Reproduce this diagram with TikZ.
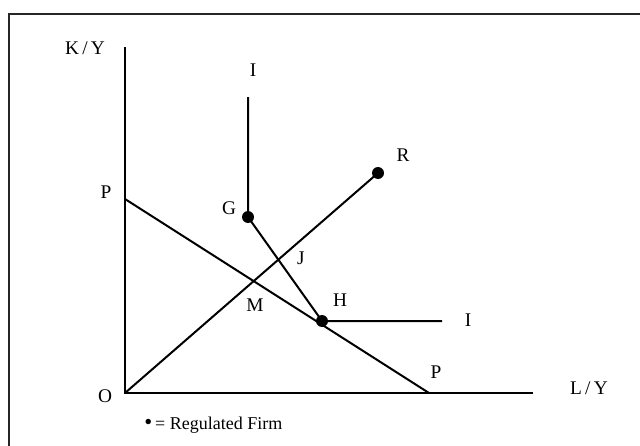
\documentclass[tikz,border=0pt]{standalone}
\usepackage{fontspec}
\setmainfont{Liberation Serif}
\begin{document}
\begin{tikzpicture}[x=0.75pt,y=-0.75pt,
  lbl/.style={font=\fontsize{14.5}{16}\selectfont, inner sep=0pt},
  ln/.style={line width=1.5pt},
  dotnode/.style={circle, fill=black, inner sep=0pt, minimum size=9pt},
  pt/.style={inner sep=0pt, minimum size=0pt}]
\useasboundingbox (0,0) rectangle (640,446);
\clip (0,0) rectangle (640,446);
% frame
\draw[line width=1.5pt, black!85] (9,460) -- (9,13.5) -- (660,13.5);
% points
\coordinate (O) at (125,393);
\coordinate (Ytop) at (125,47);
\coordinate (Xend) at (533,393);
\coordinate (P1) at (125,199);
\coordinate (P2) at (429,393);
\coordinate (Itop) at (248,97);
\coordinate (Iend) at (442,321);
\node[dotnode] (G) at (248,217) {};
\node[dotnode] (H) at (322,321) {};
\node[dotnode] (R) at (378,173) {};
% lines
\draw[ln] (Ytop) -- (O) -- (Xend);
\draw[ln] (P1) -- (P2);
\draw[ln] (O) -- (R.center);
\draw[ln] (Itop) -- (G.center) -- (H.center) -- (Iend);
% labels
\node[lbl] (lKY) at (85,48) {K\,/\,Y};
\node[lbl] (lI1) at (253,70) {I};
\node[lbl] (lP1) at (106,192) {P};
\node[lbl] (lG) at (229,208) {G};
\node[lbl] (lR) at (403,155) {R};
\node[lbl] (lJ) at (301,258) {J};
\node[lbl] (lM) at (255,305) {M};
\node[lbl] (lH) at (340,300) {H};
\node[lbl] (lI2) at (468,320) {I};
\node[lbl] (lP2) at (436,372) {P};
\node[lbl] (lO) at (105,396) {O};
\node[lbl] (lLY) at (589,388) {L\,/\,Y};
\node[lbl, font=\fontsize{13.5}{15}\selectfont, anchor=west] (leg) at (144,425) {{\fontsize{17}{15}\selectfont\raisebox{-0.5pt}{•}}\,= Regulated Firm};
\end{tikzpicture}
\end{document}
